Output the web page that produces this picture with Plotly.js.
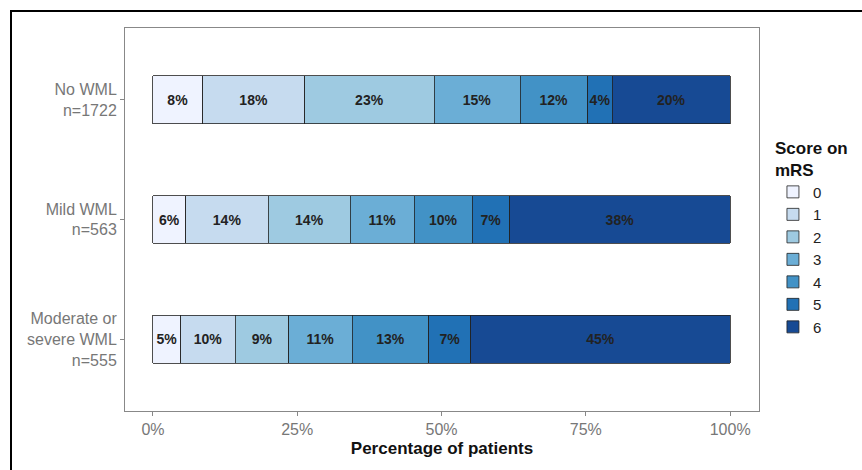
<!DOCTYPE html>
<html><head><meta charset="utf-8">
<script src="https://cdn.plot.ly/plotly-3.0.1.min.js"></script>
<style>
body{margin:0;background:#fff}
#frame{position:absolute;left:10px;top:10px;width:860px;height:470px;border-left:2px solid #000;border-top:2px solid #000}
#chart{position:absolute;left:0;top:0;width:862px;height:470px}
</style></head><body>
<div id="frame"></div>
<div id="chart"></div>
<script>
const GROUPS = ['No WML<br>n=1722', 'Mild WML<br>n=563', 'Moderate or<br>severe WML<br>n=555'];
const SCORES = ['0', '1', '2', '3', '4', '5', '6'];
const COLORS = ['#eff3ff', '#c6dbef', '#9ecae1', '#6baed6', '#4292c6', '#2171b5', '#174a94'];
// percentage per score, rows = score, cols = group
const PCT = [
  [8.6, 5.7, 4.8],
  [17.7, 14.3, 9.5],
  [22.4, 14.2, 9.2],
  [14.9, 11.1, 11.0],
  [11.7, 10.0, 13.3],
  [4.3, 6.5, 7.3],
  [20.4, 38.2, 44.9],
];
const LABELS = [
  ['8%', '6%', '5%'],
  ['18%', '14%', '10%'],
  ['23%', '14%', '9%'],
  ['15%', '11%', '11%'],
  ['12%', '10%', '13%'],
  ['4%', '7%', '7%'],
  ['20%', '38%', '45%'],
];

const traces = SCORES.map((s, i) => ({
  type: 'bar', orientation: 'h', name: s,
  x: PCT[i], y: GROUPS, text: LABELS[i],
  textposition: 'inside', insidetextanchor: 'middle', textangle: 0,
  constraintext: 'none',
  textfont: { color: '#222', size: 14, family: 'Liberation Sans, Arial', weight: 'bold' },
  marker: { color: COLORS[i], line: { color: '#222', width: 0.8 } },
  hoverinfo: 'skip',
}));

const layout = {
  width: 862, height: 470,
  paper_bgcolor: 'rgba(0,0,0,0)', plot_bgcolor: '#fff',
  font: { family: 'Liberation Sans, Arial', size: 16, color: '#777' },
  margin: { l: 125, r: 101, t: 28, b: 59 },
  barmode: 'stack', bargap: 0.6,
  xaxis: {
    range: [-4.84, 105], tickvals: [0, 25, 50, 75, 100],
    ticktext: ['0%', '25%', '50%', '75%', '100%'],
    showgrid: false, zeroline: false, showline: true, mirror: true,
    linecolor: '#888', linewidth: 1, ticks: 'outside', ticklen: 4, tickcolor: '#888',
    title: { text: '<b>Percentage of patients</b>', font: { size: 17, color: '#111' }, standoff: 4 },
  },
  yaxis: {
    range: [2.6, -0.6], showgrid: false, zeroline: false, showline: true, mirror: true,
    linecolor: '#888', linewidth: 1, ticks: 'outside', ticklen: 4, tickcolor: '#888',
  },
  legend: {
    x: 1.022, y: 0.73, xanchor: 'left', yanchor: 'top', traceorder: 'normal',
    title: { text: '<b>Score on<br>mRS</b>', font: { size: 17, color: '#111' } },
    font: { size: 15, color: '#222' }, tracegroupgap: 0, itemwidth: 30,
  },
  showlegend: true,
};

Plotly.newPlot('chart', traces, layout, { displayModeBar: false, staticPlot: true });
</script>
</body></html>
